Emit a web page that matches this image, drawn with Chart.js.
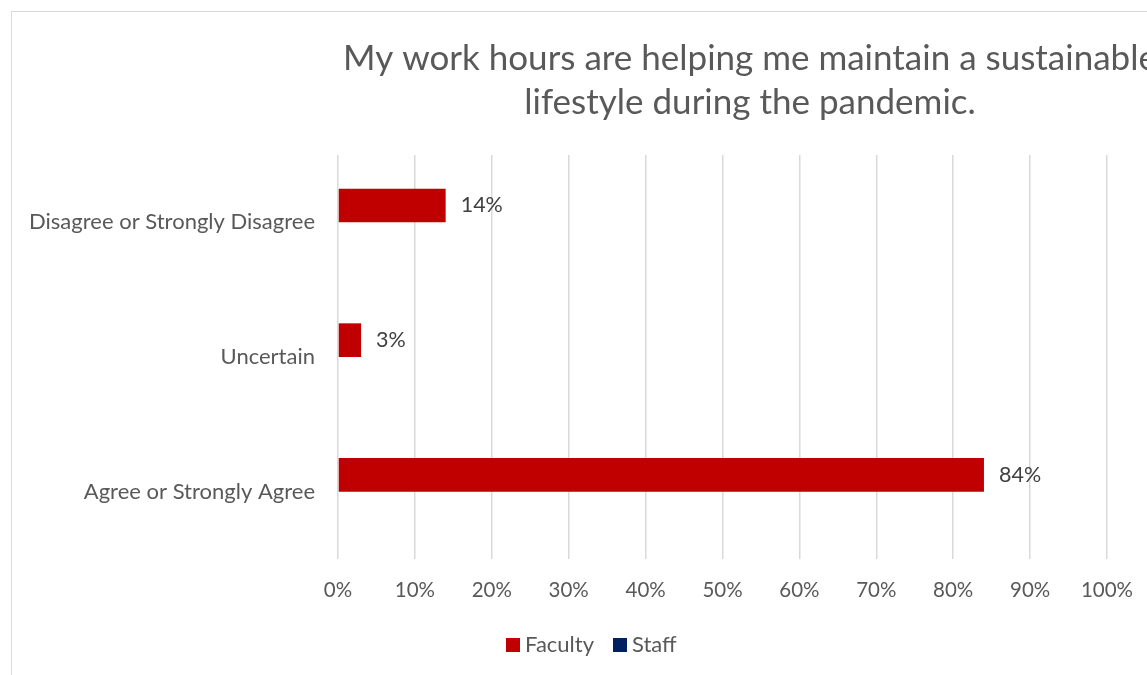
<!DOCTYPE html>
<html>
<head>
<meta charset="utf-8">
<script src="https://cdn.jsdelivr.net/npm/chart.js@4"></script>
<style>
html, body { margin: 0; padding: 0; background: #fff; overflow: hidden; }
#frame { position: absolute; left: 11px; top: 11px; width: 2000px; height: 2000px; border: 1px solid #d9d9d9; }
#wrap { position: absolute; left: 0; top: 0; width: 1147px; height: 675px; }
</style>
</head>
<body>
<div id="frame"></div>
<div id="wrap"><canvas id="chart"></canvas></div>
<script>
// Chart data
const categories = ['Disagree or Strongly Disagree', 'Uncertain', 'Agree or Strongly Agree'];
const facultyValues = [14, 3, 84];
const staffValues = [null, null, null];
const titleLines = ['My work hours are helping me maintain a sustainable', 'lifestyle during the pandemic.'];
const xTicks = [0, 10, 20, 30, 40, 50, 60, 70, 80, 90, 100];

const FONT = 'Lato, "Open Sans", sans-serif';
const GREY = '#595959';

// Title, centred a bit right of the canvas middle (cut off like the original)
const titlePlugin = {
    id: 'titleLines',
    afterDraw(chart) {
        const ctx = chart.ctx;
        ctx.save();
        ctx.font = '35px ' + FONT;
        ctx.fillStyle = GREY;
        ctx.textAlign = 'center';
        ctx.textBaseline = 'alphabetic';
        titleLines.forEach((line, i) => ctx.fillText(line, 750, 70 + i * 44));
        ctx.restore();
    }
};

// Value labels next to bars
const labelPlugin = {
    id: 'valueLabels',
    afterDatasetsDraw(chart) {
        const ctx = chart.ctx;
        ctx.save();
        ctx.font = '21.5px ' + FONT;
        ctx.fillStyle = '#404040';
        ctx.textAlign = 'left';
        ctx.textBaseline = 'middle';
        chart.data.datasets.forEach((ds, di) => {
            chart.getDatasetMeta(di).data.forEach((bar, i) => {
                if (ds.data[i] == null) return;
                ctx.fillText(ds.data[i] + '%', bar.x + 15, bar.y);
            });
        });
        ctx.restore();
    }
};

// Legend under the axis
const legendPlugin = {
    id: 'bottomLegend',
    afterDraw(chart) {
        const ctx = chart.ctx;
        ctx.save();
        ctx.font = '22px ' + FONT;
        ctx.textBaseline = 'middle';
        ctx.textAlign = 'left';
        let x = 506;
        const y = 645;
        chart.data.datasets.forEach(ds => {
            ctx.fillStyle = ds.backgroundColor;
            ctx.fillRect(x, y - 7, 14, 14);
            ctx.fillStyle = GREY;
            ctx.fillText(ds.label, x + 19, y);
            x += 19 + ctx.measureText(ds.label).width + 19;
        });
        ctx.restore();
    }
};

new Chart(document.getElementById('chart'), {
    type: 'bar',
    data: {
        labels: categories,
        datasets: [
            { label: 'Faculty', data: facultyValues, backgroundColor: '#C00000', borderColor: '#C00000', borderWidth: 0 },
            { label: 'Staff', data: staffValues, backgroundColor: '#002060', borderColor: '#002060', borderWidth: 0 }
        ]
    },
    options: {
        indexAxis: 'y',
        responsive: true,
        maintainAspectRatio: false,
        animation: false,
        categoryPercentage: 0.5,
        barPercentage: 1,
        layout: { padding: { top: 155, right: 40, bottom: 0, left: 0 } },
        plugins: { legend: { display: false }, title: { display: false }, tooltip: { enabled: false } },
        scales: {
            x: {
                min: 0,
                max: 100,
                afterBuildTicks: (scale) => { scale.ticks = xTicks.map(v => ({ value: v })); },
                afterFit: (scale) => {
                    scale.height = 116;
                    scale.paddingLeft = 0;
                    scale.paddingRight = 0;
                },
                ticks: { callback: v => v + '%', color: GREY, font: { family: FONT, size: 20.5 }, padding: 19 },
                grid: { color: '#d9d9d9', lineWidth: 1.5, drawTicks: false },
                border: { display: false }
            },
            y: {
                afterFit: (scale) => { scale.width = 338; },
                ticks: { color: GREY, font: { family: FONT, size: 22 }, padding: 15 },
                grid: { display: false },
                border: { display: false }
            }
        }
    },
    plugins: [titlePlugin, labelPlugin, legendPlugin]
});
</script>
</body>
</html>
